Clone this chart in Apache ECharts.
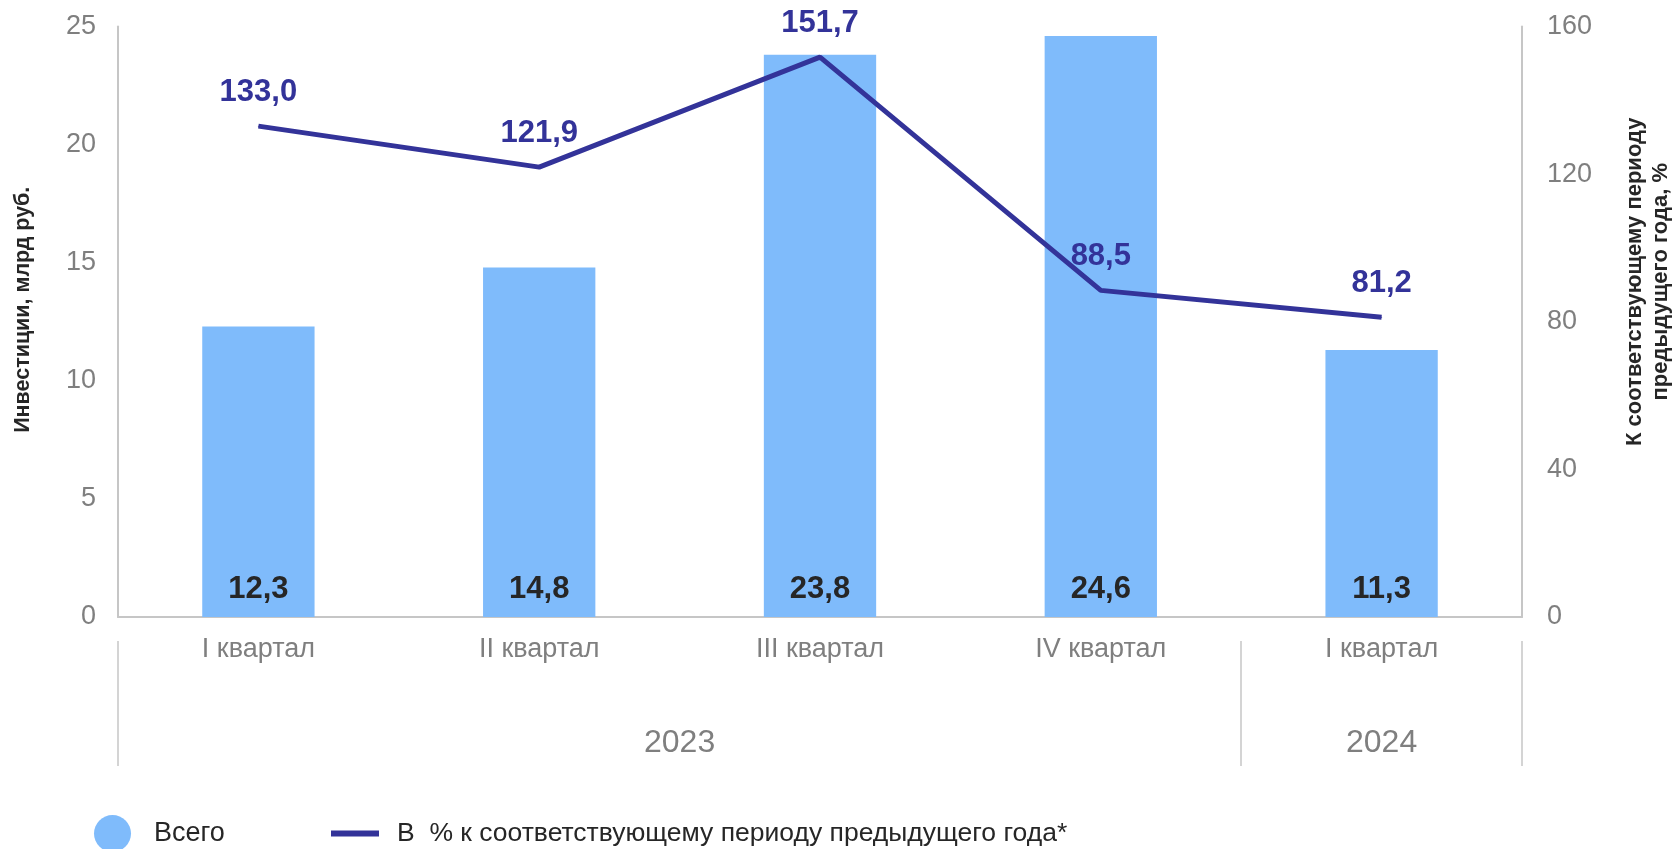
<!DOCTYPE html>
<html>
<head>
<meta charset="utf-8">
<script src="https://cdn.jsdelivr.net/npm/echarts@6/dist/echarts.min.js"></script>
<style>
html,body{margin:0;padding:0;background:#fff;}
#chart{width:1675px;height:849px;}
</style>
</head>
<body>
<div id="chart"></div>
<script>
const categories = ['I квартал', 'II квартал', 'III квартал', 'IV квартал', 'I квартал'];
const investments = [12.3, 14.8, 23.8, 24.6, 11.3];
const percentPrev = [133.0, 121.9, 151.7, 88.5, 81.2];
const years = ['2023', '2024'];
const yearSpans = [[0, 4], [4, 5]];
const leftTicks = { min: 0, max: 25, interval: 5 };
const rightTicks = { min: 0, max: 160, interval: 40 };
const barName = 'Всего';
const lineName = 'В  % к соответствующему периоду предыдущего года*';
const leftTitle = 'Инвестиции, млрд руб.';
const rightTitle = 'К соответствующему периоду\nпредыдущего года, %';

const FONT = '"Liberation Sans", Arial, sans-serif';
const GREY = '#7f7f7f';
const AXIS = '#c6c6c6';
const BAR = '#7fbbfb';
const LINE = '#333399';
const DARK = '#262626';
const fmt = v => v.toFixed(1).replace('.', ',');

const boundaries = [];
yearSpans.forEach(s => { if (!boundaries.includes(s[0])) boundaries.push(s[0]); if (!boundaries.includes(s[1])) boundaries.push(s[1]); });
const yearCenters = yearSpans.map(s => (s[0] + s[1]) / 2);

const chart = echarts.init(document.getElementById('chart'), null, { renderer: 'canvas' });
chart.setOption({
  animation: false,
  backgroundColor: '#fff',
  textStyle: { fontFamily: FONT },
  grid: [
    { left: 118, right: 153, top: 26.5, bottom: 232, containLabel: false, outerBoundsMode: 'none' },
    { left: 118, right: 153, top: 641, height: 125, containLabel: false, outerBoundsMode: 'none' }
  ],
  legend: [
    {
      data: [barName], left: 89, top: 810, icon: 'circle', itemWidth: 37, itemHeight: 37,
      textStyle: { fontSize: 27, color: DARK, fontFamily: FONT, padding: [0, 0, 0, 18] }
    },
    {
      data: [lineName], left: 326, top: 815, icon: 'rect', itemWidth: 48, itemHeight: 6,
      textStyle: { fontSize: 26.5, color: DARK, fontFamily: FONT, padding: [0, 0, 0, 13] }
    }
  ],
  xAxis: [
    {
      type: 'category', data: categories, position: 'bottom', gridIndex: 0,
      axisLine: { show: true, lineStyle: { color: AXIS, width: 2 } },
      axisTick: { show: false },
      axisLabel: { fontSize: 27, color: GREY, margin: 19, fontFamily: FONT }
    },
    {
      type: 'value', min: 0, max: categories.length, position: 'top', gridIndex: 1,
      axisLine: { show: false, onZero: false },
      splitLine: { show: false },
      axisTick: { show: true, inside: true, length: 125, customValues: boundaries, lineStyle: { color: AXIS, width: 1.5 } },
      axisLabel: {
        show: true, inside: true, customValues: yearCenters, margin: 86, fontSize: 32, color: GREY, fontFamily: FONT,
        formatter: v => { const i = yearCenters.indexOf(v); return i >= 0 ? years[i] : ''; }
      }
    }
  ],
  yAxis: [
    {
      type: 'value', gridIndex: 0, min: leftTicks.min, max: leftTicks.max, interval: leftTicks.interval, position: 'left',
      axisLine: { show: true, lineStyle: { color: AXIS, width: 2 } },
      axisTick: { show: false }, splitLine: { show: false },
      axisLabel: { fontSize: 27, color: GREY, margin: 22, fontFamily: FONT },
      name: leftTitle, nameLocation: 'middle', nameGap: 84, nameRotate: 90,
      nameTextStyle: { fontSize: 21.5, fontWeight: 'bold', color: DARK, fontFamily: FONT, padding: [0, 0, 0, 24] }
    },
    {
      type: 'value', gridIndex: 0, min: rightTicks.min, max: rightTicks.max, interval: rightTicks.interval, position: 'right',
      axisLine: { show: true, lineStyle: { color: AXIS, width: 2 } },
      axisTick: { show: false }, splitLine: { show: false },
      axisLabel: { fontSize: 27, color: GREY, margin: 25, fontFamily: FONT },
      name: rightTitle, nameLocation: 'middle', nameGap: 100, nameRotate: 90,
      nameTextStyle: { fontSize: 22, fontWeight: 'bold', color: DARK, fontFamily: FONT, lineHeight: 26, align: 'center', padding: [0, 0, 0, 80] }
    },
    {
      type: 'value', gridIndex: 1, min: 0, max: 1, show: false
    }
  ],
  series: [
    {
      name: barName, type: 'bar', data: investments, xAxisIndex: 0, yAxisIndex: 0,
      barWidth: '40%', itemStyle: { color: BAR },
      label: {
        show: true, position: 'insideBottom', distance: 12, formatter: p => fmt(p.value),
        fontSize: 31, fontWeight: 'bold', color: DARK, fontFamily: FONT
      }
    },
    {
      name: lineName, type: 'line', data: percentPrev, xAxisIndex: 0, yAxisIndex: 1,
      symbol: 'circle', symbolSize: 1, showSymbol: true, itemStyle: { color: LINE },
      lineStyle: { color: LINE, width: 5 },
      label: {
        show: true, position: 'top', distance: 18, formatter: p => fmt(p.value),
        fontSize: 31, fontWeight: 'bold', color: LINE, fontFamily: FONT
      },
      labelLayout: { hideOverlap: false }
    }
  ]
});
</script>
</body>
</html>
